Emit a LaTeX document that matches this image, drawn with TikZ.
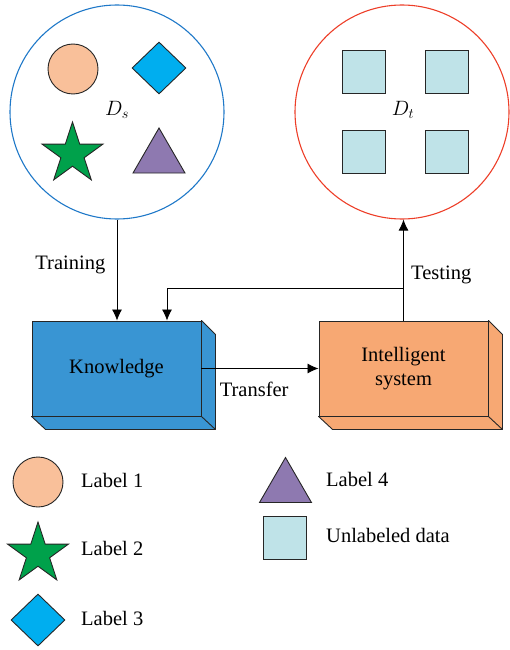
\documentclass[tikz,border=0pt]{standalone}
\usepackage{fontspec}
\setmainfont{Liberation Serif}
\usetikzlibrary{calc,arrows.meta,shapes.geometric}

\definecolor{srcblue}{RGB}{30,120,200}
\definecolor{tgtred}{RGB}{237,62,40}
\definecolor{peach}{RGB}{249,192,154}
\definecolor{skyblue}{RGB}{0,174,239}
\definecolor{leafgreen}{RGB}{0,161,75}
\definecolor{lilac}{RGB}{142,121,176}
\definecolor{paleblue}{RGB}{191,227,232}
\definecolor{knowblue}{RGB}{57,149,211}
\definecolor{sysorange}{RGB}{247,168,115}

\tikzset{
  item/.style={draw=black!85, line width=0.9pt, inner sep=0pt},
  lab1/.style={item, circle, fill=peach, minimum size=50pt},
  lab2/.style={item, star, star points=5, star point ratio=2.618, fill=leafgreen, minimum size=64pt},
  lab3/.style={item, diamond, fill=skyblue, minimum width=54pt, minimum height=52pt},
  lab4/.style={item, regular polygon, regular polygon sides=3, fill=lilac, minimum size=60pt},
  unlab/.style={item, rectangle, fill=paleblue, minimum size=43pt},
  dataset/.style={circle, line width=1.1pt, minimum size=214pt, inner sep=0pt},
  block/.style={draw=black!85, line width=0.9pt, minimum width=169pt, minimum height=95pt, align=center},
  legtext/.style={anchor=base west, inner sep=0pt},
  link/.style={line width=0.8pt, -{Latex[length=11pt,width=10pt]}}
}

\begin{document}
\begin{tikzpicture}[x=1pt, y=-1pt, every node/.append style={font=\fontsize{20.5}{24}\selectfont}]
  \useasboundingbox (0,0) rectangle (509,650);

  % source and target domains
  \node[dataset, draw=srcblue] (src) at (117,112) {};
  \node[dataset, draw=tgtred] (tgt) at (402,112) {};
  \node (ds) at (117,110) {$D_s$};
  \node (dt) at (403,110) {$D_t$};

  \node[lab1] (s1) at (73,69) {};
  \node[lab3] (s3) at (159,68) {};
  \node[lab2] (s2) at (72.5,154) {};
  \node[lab4] (s4) at (159,158) {};

  \node[unlab] (t1) at (363.5,72) {};
  \node[unlab] (t2) at (447,72) {};
  \node[unlab] (t3) at (363.5,151.5) {};
  \node[unlab] (t4) at (447,151.5) {};

  % 3d blocks
  \node[block] (know) at (116.5,368.5) {};
  \node[block] (sys) at (403.5,368.5) {};
  \foreach \b/\c in {know/knowblue, sys/sysorange} {
    \filldraw[fill=\c, draw=black!85, line width=0.9pt, line join=round]
      (\b.north east) -- ++(14,14) -- ($(\b.south east)+(14,13)$)
      -- ($(\b.south west)+(14,13)$) -- (\b.south west) -- (\b.south east) -- cycle;
    \draw[black!85, line width=0.9pt] (\b.south east) -- ++(14,13);
  }
  \node[block, fill=knowblue] at (know) {Knowledge};
  \node[block, fill=sysorange] at (sys) {Intelligent\\system};

  % connectors
  \draw[link] (src.south) -- node[pos=0.45, left=8pt] {Training} (src.south |- know.north);
  \draw[link] (sys.north) -- node[pos=0.45, right=4pt] {Testing} (sys.north |- tgt.south);
  \draw[link] (sys.north) ++(0,-32) -| ([xshift=50.5pt]know.north);
  \draw[link] (know.east) -- node[below=10pt, pos=0.45] {Transfer} (sys.west);

  % legend
  \node[lab1] (k1) at (38,482) {};
  \node[lab2] (k2) at (38,554) {};
  \node[lab3] (k3) at (38,620) {};
  \node[lab4] (k4) at (285.5,487.5) {};
  \node[unlab] (k5) at (285,537.5) {};
  \node[legtext] (k1t) at (81,487) {Label 1};
  \node[legtext] (k2t) at (81,555) {Label 2};
  \node[legtext] (k3t) at (81,625) {Label 3};
  \node[legtext] (k4t) at (326,486) {Label 4};
  \node[legtext] (k5t) at (326,542) {Unlabeled data};
\end{tikzpicture}
\end{document}
